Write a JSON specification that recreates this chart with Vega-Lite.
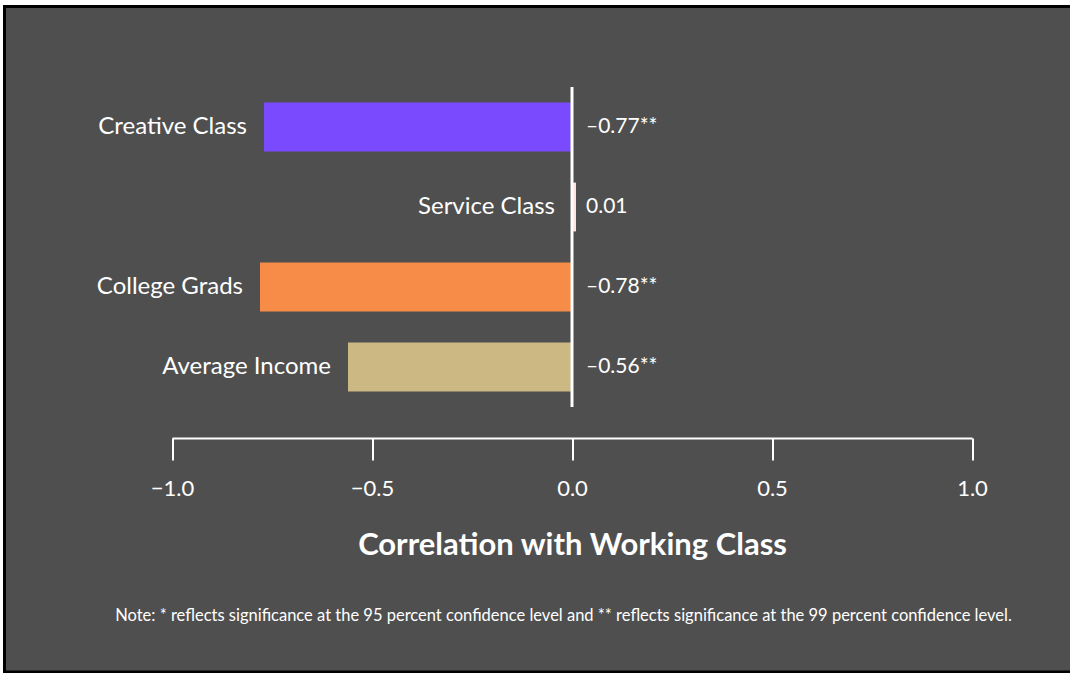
{
  "$schema": "https://vega.github.io/schema/vega-lite/v6.json",
  "width": 1075,
  "height": 665.5,
  "autosize": {"type": "none"},
  "padding": {"left": 4.5, "top": 6.5, "right": -9.5, "bottom": 1},
  "background": "white",
  "config": {
    "view": {"fill": "#4f4f4f", "stroke": "black", "strokeWidth": 3},
    "font": "Lato"
  },
  "title": {
    "text": "Note: * reflects significance at the 95 percent confidence level and ** reflects significance at the 99 percent confidence level.",
    "orient": "bottom",
    "offset": -64,
    "anchor": "middle",
    "frame": "group",
    "dx": 21.5,
    "fontSize": 16.5,
    "fontWeight": "normal",
    "color": "white",
    "font": "Lato"
  },
  "data": {
    "values": [
      {"category": "Creative Class", "r": -0.77, "label": "–0.77**"},
      {"category": "Service Class", "r": 0.01, "label": "0.01"},
      {"category": "College Grads", "r": -0.78, "label": "–0.78**"},
      {"category": "Average Income", "r": -0.56, "label": "–0.56**"}
    ]
  },
  "transform": [{"calculate": "min(datum.r, 0)", "as": "start"}],
  "encoding": {
    "y": {
      "field": "category",
      "type": "nominal",
      "sort": null,
      "scale": {"range": [80.5, 400.5], "paddingInner": 0.39, "paddingOuter": 0.195},
      "axis": null
    }
  },
  "layer": [
    {
      "mark": {"type": "bar"},
      "encoding": {
        "x": {
          "field": "r",
          "type": "quantitative",
          "scale": {"domain": [-1, 1], "range": [167.5, 967.5], "nice": false, "zero": false},
          "axis": {
            "values": [-1, -0.5, 0, 0.5, 1],
            "format": ".1f",
            "orient": "bottom",
            "offset": -234,
            "grid": false,
            "domainColor": "white",
            "domainWidth": 2,
            "tickColor": "white",
            "tickWidth": 2,
            "tickSize": 22,
            "labelColor": "white",
            "labelFontSize": 22,
            "labelPadding": 18,
            "labelFont": "Lato",
            "labelFlush": false,
            "title": "Correlation with Working Class",
            "titleColor": "white",
            "titleFont": "Lato",
            "titleFontSize": 31,
            "titleFontWeight": "bold",
            "titlePadding": 31
          }
        },
        "x2": {"datum": 0},
        "color": {
          "field": "category",
          "type": "nominal",
          "scale": {
            "domain": ["Creative Class", "Service Class", "College Grads", "Average Income"],
            "range": ["#7a4aff", "#ffe2e2", "#f68c47", "#ccb882"]
          },
          "legend": null
        }
      }
    },
    {
      "mark": {"type": "tick", "color": "white", "size": 80, "thickness": 3, "orient": "vertical", "opacity": 1},
      "encoding": {"x": {"datum": 0}}
    },
    {
      "mark": {"type": "text", "align": "right", "baseline": "middle", "dx": -17, "fontSize": 24, "color": "white", "font": "Lato"},
      "encoding": {
        "x": {"field": "start", "type": "quantitative"},
        "text": {"field": "category"}
      }
    },
    {
      "mark": {"type": "text", "align": "left", "baseline": "middle", "dx": 14, "fontSize": 21, "color": "white", "font": "Lato"},
      "encoding": {
        "x": {"datum": 0},
        "text": {"field": "label"}
      }
    }
  ]
}
